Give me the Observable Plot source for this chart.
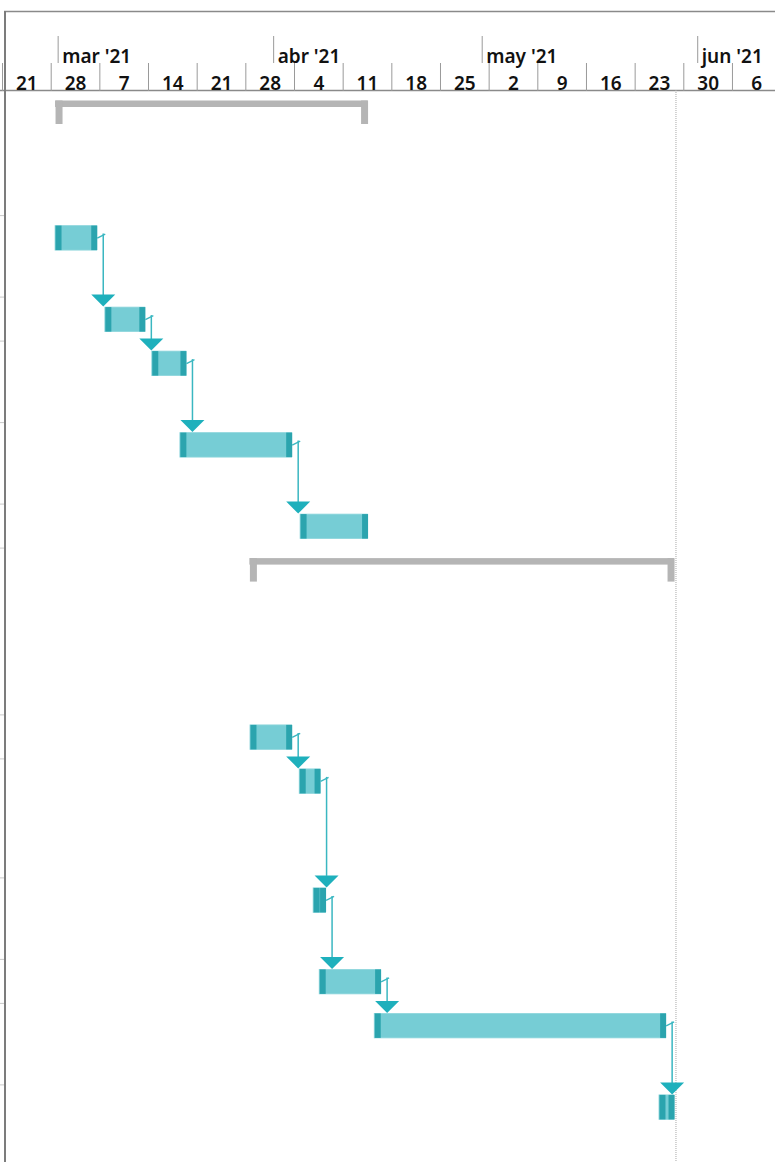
<!DOCTYPE html>
<html>
<head>
<meta charset="utf-8">
<script src="https://cdn.jsdelivr.net/npm/d3@7"></script>
<script src="https://cdn.jsdelivr.net/npm/@observablehq/plot@0.6"></script>
<style>
  html, body { margin: 0; padding: 0; background: #ffffff; }
  #chart svg { display: block; }
</style>
</head>
<body>
<div id="chart"></div>
<script>
// ---------------- data ----------------
const taskId      = [1, 2, 3, 4, 5, 6, 7, 8, 9, 10, 11, 12, 13];
const taskSummary = [true, false, false, false, false, false, true, false, false, false, false, false, false];
const taskLines   = [3, 2, 1, 2, 2, 1, 4, 1, 3, 2, 1, 2, 2];   // wrapped lines of the (hidden) task-name column
const taskStart   = ["2021-02-28T15:00", "2021-02-28T15:00", "2021-03-07T19:00", "2021-03-14T13:00",
                     "2021-03-18T14:00", "2021-04-04T21:00", "2021-03-28T14:00", "2021-03-28T16:00",
                     "2021-04-04T18:00", "2021-04-06T18:00", "2021-04-07T15:00", "2021-04-15T13:00",
                     "2021-05-26T12:00"];
const taskFinish  = ["2021-04-14T14:00", "2021-03-06T15:00", "2021-03-13T13:00", "2021-03-19T11:00",
                     "2021-04-03T16:00", "2021-04-14T14:00", "2021-05-28T16:00", "2021-04-03T16:00",
                     "2021-04-07T18:00", "2021-04-08T13:00", "2021-04-16T11:00", "2021-05-27T11:00",
                     "2021-05-28T16:00"];
const linkFrom    = [2, 3, 4, 5, 8, 9, 10, 11, 12];
const linkTo      = [3, 4, 5, 6, 9, 10, 11, 12, 13];
const weekStarts  = ["2021-02-21", "2021-02-28", "2021-03-07", "2021-03-14", "2021-03-21", "2021-03-28",
                     "2021-04-04", "2021-04-11", "2021-04-18", "2021-04-25", "2021-05-02", "2021-05-09",
                     "2021-05-16", "2021-05-23", "2021-05-30", "2021-06-06"];
const weekLabels  = ["21", "28", "7", "14", "21", "28", "4", "11", "18", "25", "2", "9", "16", "23", "30", "6"];
const monthStarts = ["2021-03-01", "2021-04-01", "2021-05-01", "2021-06-01"];
const monthLabels = ["mar '21", "abr '21", "may '21", "jun '21"];
const statusDate  = "2021-05-28T21:00";
const timeDomain  = ["2021-02-20T17:00", "2021-06-12T04:34"];

// ---------------- layout ----------------
const utc = s => new Date((s.length === 10 ? s + "T00:00" : s) + ":00Z");
const W = 775, H = 1162, TOP = 90;
const rowHeight = (lines, summary) => summary ? 41.7 * lines : 37.5 * lines + 6.5;

let acc = 0;
const tasks = taskId.map((id, i) => {
  const h = rowHeight(taskLines[i], taskSummary[i]);
  const t = {
    id, summary: taskSummary[i],
    start: utc(taskStart[i]), finish: utc(taskFinish[i]),
    top: acc, bottom: acc + h,
    bar0: acc + 10.5, bar1: acc + 35, mid: acc + 22.5
  };
  acc += h;
  return t;
});
const byId = new Map(tasks.map(t => [t.id, t]));
const bars = tasks.filter(t => !t.summary);
const summaries = tasks.filter(t => t.summary);
const links = linkFrom.map((f, i) => ({from: byId.get(f), to: byId.get(linkTo[i])}));
const rowLines = tasks.map(t => t.bottom);

const weeks = weekStarts.map((s, i) => ({date: utc(s), label: weekLabels[i]}));
const months = monthStarts.map((s, i) => ({date: utc(s), label: monthLabels[i]}));

const BAR = "#76cdd5", CAP = "#2ba4ae", LINK = "#3ab7c1", ARROW = "#1eb0bc";
const GREY = "#b5b5b5", LINE = "#8a8a8a";
const FONT = "Noto Sans";

const hook = {draw(ctx) { ctx.moveTo(0, 0); ctx.lineTo(8, -4); }};
const triangle = {draw(ctx) { ctx.moveTo(-12, -13); ctx.lineTo(12, -13); ctx.lineTo(0, -1); ctx.closePath(); }};

const chart = Plot.plot({
  width: W,
  height: H,
  marginTop: TOP,
  marginBottom: 0,
  marginLeft: 0,
  marginRight: 0,
  style: {fontFamily: FONT, fontSize: "19px", color: "#000", background: "#fff"},
  x: {type: "utc", domain: timeDomain.map(utc), axis: null},
  y: {domain: [0, H - TOP], range: [TOP, H], axis: null},
  marks: [
    // frame lines
    Plot.ruleY([0], {stroke: LINE, strokeWidth: 1.5}),
    Plot.ruleY([0], {dy: -79, insetLeft: 4, stroke: LINE, strokeWidth: 1.5}),
    Plot.ruleY(rowLines, {insetRight: W - 4, stroke: "#c9c9c9"}),
    Plot.ruleX([utc(timeDomain[0])], {dx: 4.5, insetTop: -79, stroke: "#7c7c7c", strokeWidth: 2}),
    // timescale header
    Plot.axisX({anchor: "top", ticks: weeks.map(d => d.date), tickSize: 28, fill: "none", label: null, stroke: "#9a9a9a"}),
    Plot.axisX({anchor: "top", ticks: months.map(d => d.date), tickSize: 27, dy: -28, fill: "none", label: null, stroke: "#9a9a9a"}),
    Plot.text(weeks, {x: d => d3.utcHour.offset(d.date, 84), text: "label", frameAnchor: "top",
      lineAnchor: "bottom", dy: -1, fill: "#111", fontWeight: 600}),
    Plot.text(months, {x: "date", text: "label", frameAnchor: "top", textAnchor: "start",
      lineAnchor: "bottom", dx: 4, dy: -28, fill: "#111", fontWeight: 600}),
    // status date
    Plot.ruleX([utc(statusDate)], {stroke: "#a8a8a8", strokeDasharray: "1,1"}),
    // summary brackets
    Plot.rect(summaries, {x1: "start", x2: "finish", y1: d => d.top + 10.5, y2: d => d.top + 17, fill: GREY}),
    Plot.ruleX(summaries, {x: "start", y1: d => d.top + 10.5, y2: d => d.top + 34, stroke: GREY, strokeWidth: 7, dx: 3.5}),
    Plot.ruleX(summaries, {x: "finish", y1: d => d.top + 10.5, y2: d => d.top + 34, stroke: GREY, strokeWidth: 7, dx: -3.5}),
    // task bars
    Plot.rect(bars, {x1: "start", x2: "finish", y1: "bar0", y2: "bar1", fill: BAR, stroke: "#8fd6dc", strokeWidth: 0.8}),
    Plot.ruleX(bars, {x: "start", y1: "bar0", y2: "bar1", stroke: CAP, strokeWidth: 6, dx: 3}),
    Plot.ruleX(bars, {x: "finish", y1: "bar0", y2: "bar1", stroke: CAP, strokeWidth: 6, dx: -3}),
    // links
    Plot.dot(links, {x: d => d.from.finish, y: d => d.from.mid, symbol: hook, fill: "none", stroke: LINK, strokeWidth: 1.3}),
    Plot.ruleX(links, {x: d => d.from.finish, y1: d => d.from.mid - 4, y2: d => d.to.bar0 - 12, dx: 6, stroke: LINK, strokeWidth: 1.5}),
    Plot.dot(links, {x: d => d.from.finish, y: d => d.to.bar0, dx: 6, symbol: triangle, fill: ARROW, stroke: "none"})
  ]
});
document.getElementById("chart").appendChild(chart);
</script>
</body>
</html>
